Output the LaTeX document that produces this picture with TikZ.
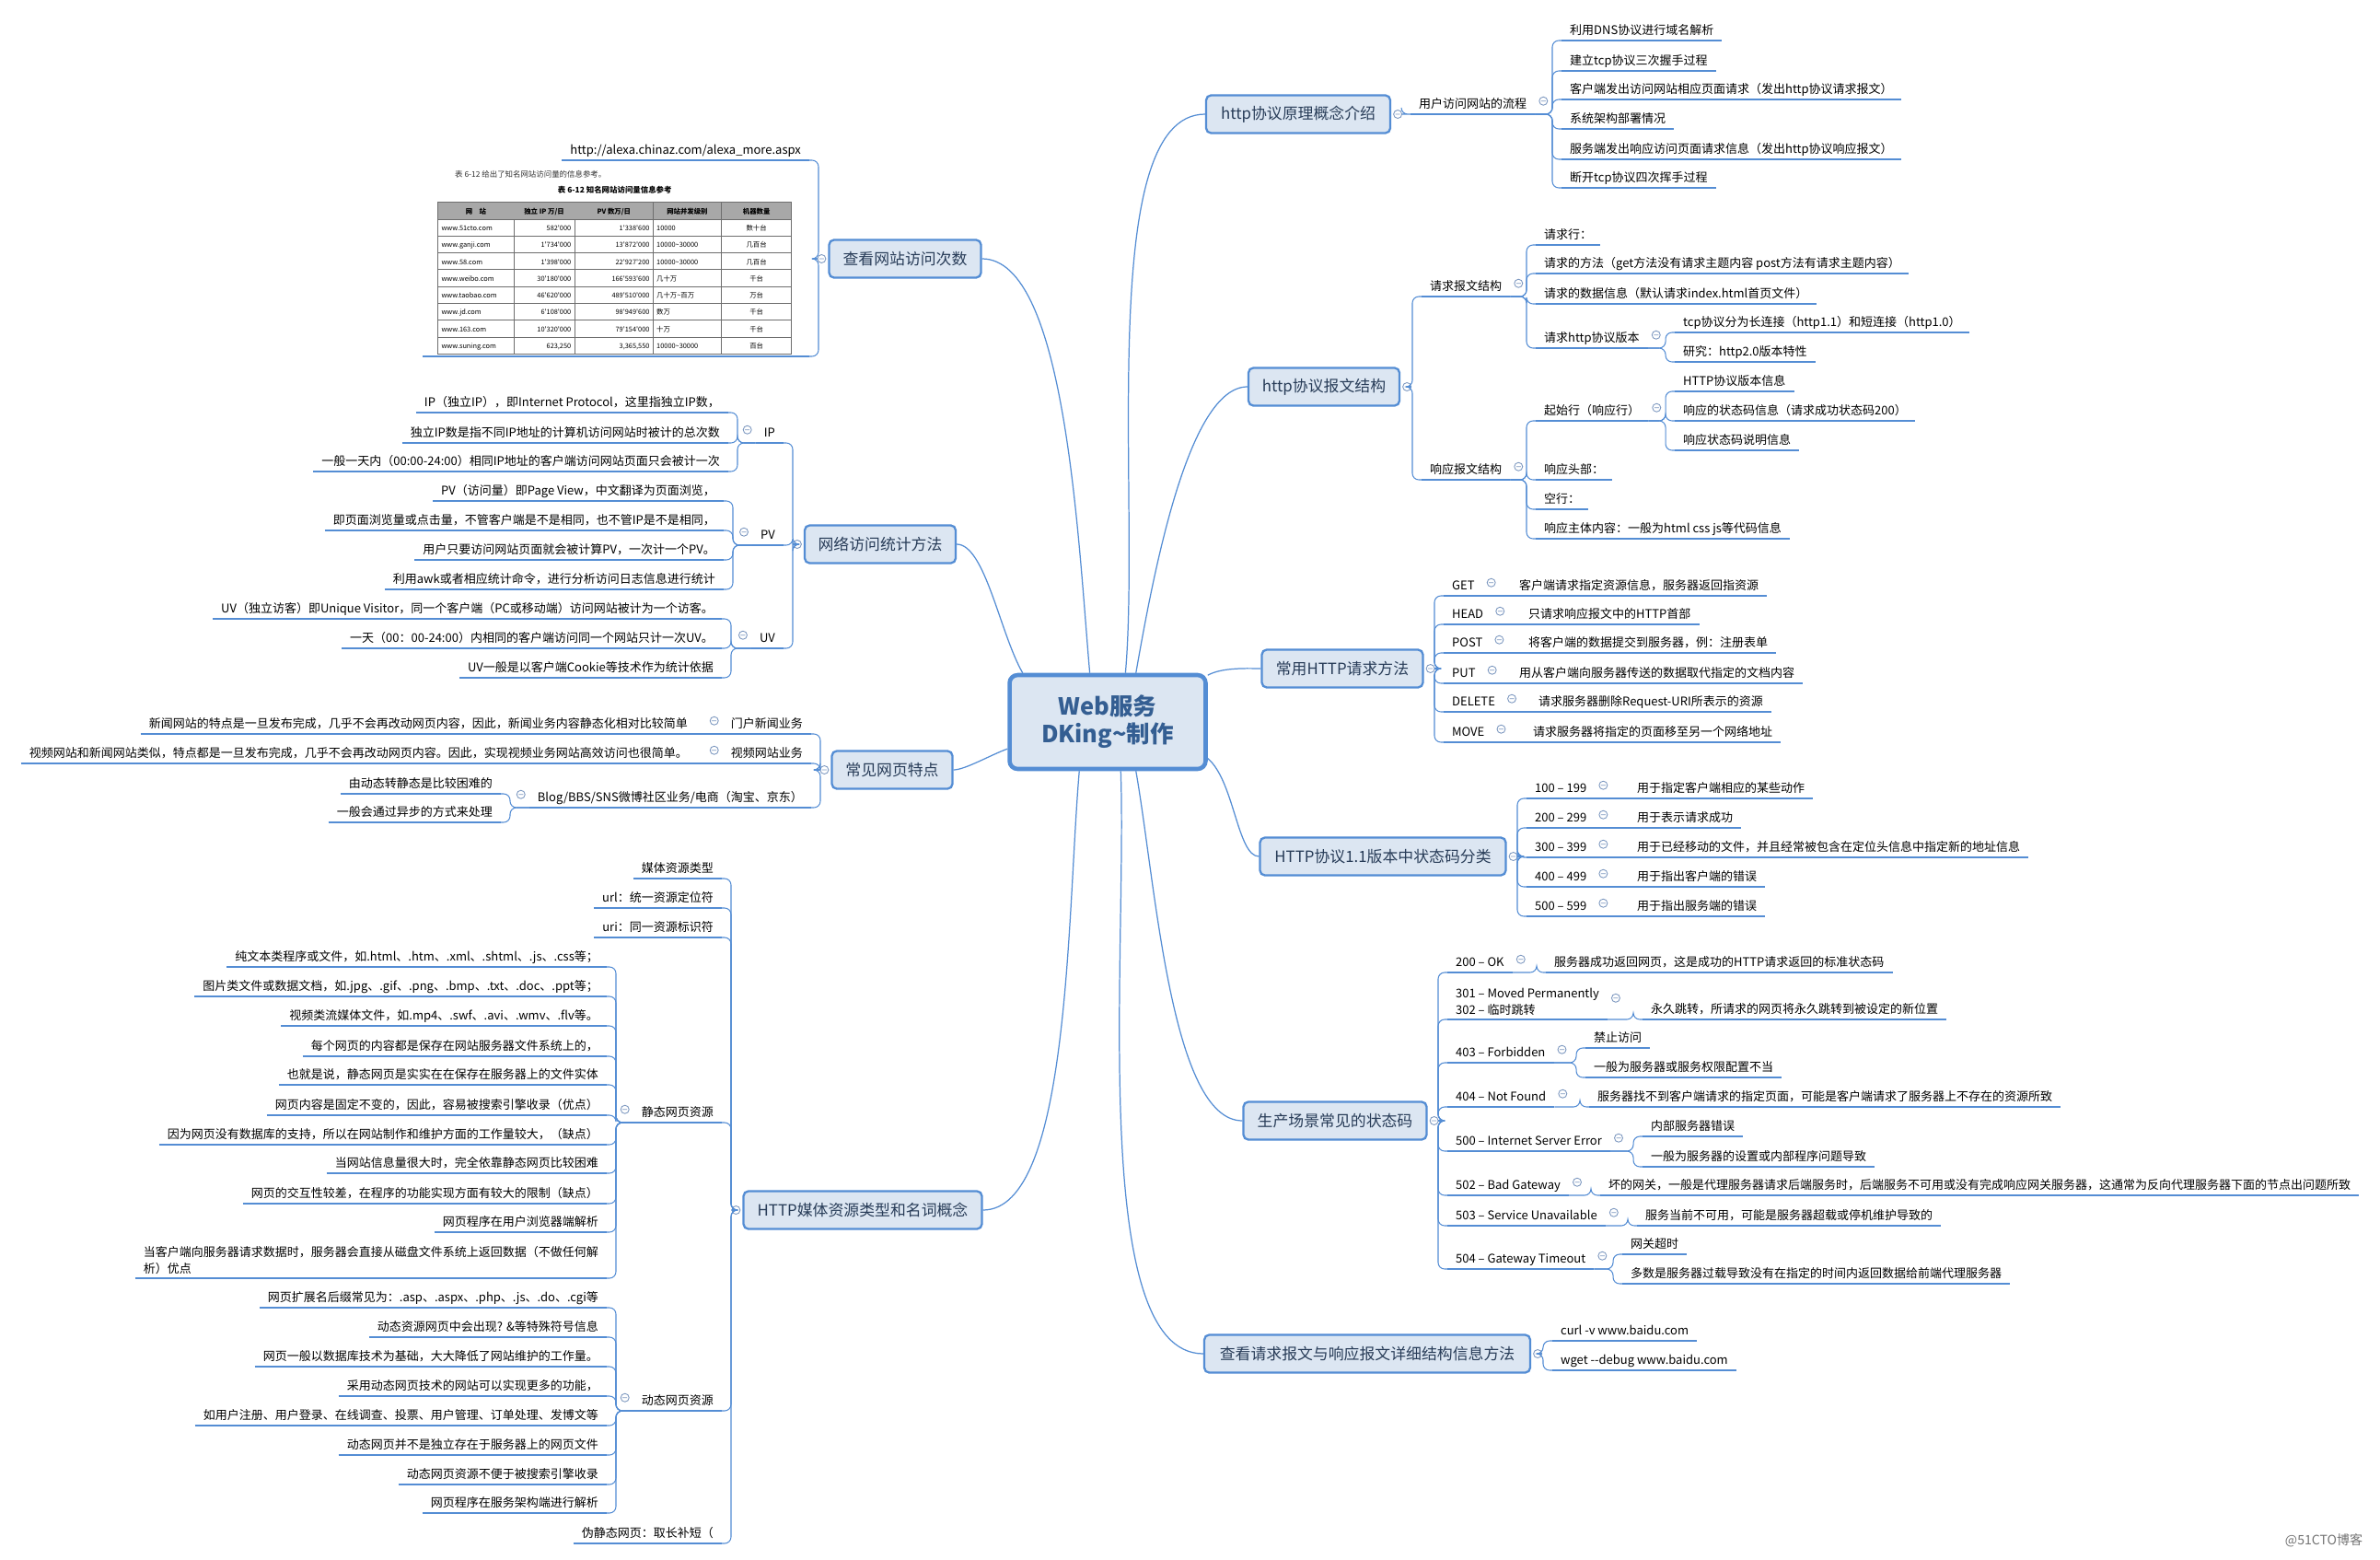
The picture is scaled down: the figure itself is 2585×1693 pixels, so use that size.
\PassOptionsToPackage{table}{xcolor}
\documentclass[tikz,border=0pt]{standalone}
\usepackage{fontspec}
\setmainfont{Noto Sans CJK SC}
\usepackage{array}
\usetikzlibrary{positioning}
\definecolor{lineblue}{RGB}{84,141,212}
\definecolor{topicfill}{RGB}{220,230,242}
\definecolor{topictext}{RGB}{40,60,88}
\definecolor{roottext}{RGB}{52,94,146}
\definecolor{foldgray}{RGB}{125,152,192}
\definecolor{tblhead}{RGB}{168,168,168}
\definecolor{tblrule}{RGB}{110,110,110}
\newcommand{\leaffont}{\fontsize{7.4pt}{10.2pt}\selectfont}
\newcommand{\topicfont}{\fontsize{9.6pt}{12pt}\selectfont}
\newcommand{\rootfont}{\fontsize{14.5pt}{17pt}\selectfont\bfseries}
\newcommand{\tblfont}{\fontsize{4.2pt}{5pt}\selectfont}
\newcommand{\capfont}{\fontsize{4.8pt}{5.5pt}\selectfont}
\newcommand{\q}{\textquotesingle}

\begin{document}
\begin{tikzpicture}[
  x=0.02cm, y=-0.02cm,
  link/.style={draw=lineblue, line width=0.6pt, rounded corners=4pt},
  trunk/.style={draw=lineblue, line width=0.7pt, out looseness=0.8, in looseness=0.5},
  uline/.style={draw=lineblue, line width=1.5pt},
  foldline/.style={draw=foldgray, line width=0.5pt, fill=white},
  ul/.style={append after command={(\tikzlastnode.south west) edge[uline] (\tikzlastnode.south east)}},
  leaf/.style={ul, font=\leaffont, inner xsep=5pt, inner ysep=1.6pt, text height=6.3pt, text depth=1.8pt},
  leafR/.style={leaf, anchor=south west},
  leafL/.style={leaf, anchor=south east},
  foldR/.style={append after command={\pgfextra{\draw[foldline] ([xshift=0.18cm,yshift=0.08cm]\tikzlastnode.east) circle (0.09cm) +(-0.05cm,0) -- +(0.05cm,0);}}},
  foldL/.style={append after command={\pgfextra{\draw[foldline] ([xshift=-0.18cm,yshift=0.08cm]\tikzlastnode.west) circle (0.09cm) +(-0.05cm,0) -- +(0.05cm,0);}}},
  foldBR/.style={append after command={\pgfextra{\draw[foldline] ([xshift=0.14cm]\tikzlastnode.east) circle (0.09cm) +(-0.05cm,0) -- +(0.05cm,0);}}},
  foldBL/.style={append after command={\pgfextra{\draw[foldline] ([xshift=-0.14cm]\tikzlastnode.west) circle (0.09cm) +(-0.05cm,0) -- +(0.05cm,0);}}},
  topic/.style={draw=lineblue, line width=1.3pt, fill=topicfill, rounded corners=3pt,
    font=\topicfont, text=topictext, minimum height=0.82cm, inner xsep=0.2cm},
  rootbox/.style={draw=lineblue, line width=2.6pt, fill=topicfill, rounded corners=5pt,
    font=\rootfont, text=roottext, align=center, minimum width=4.26cm, minimum height=2.04cm}
]
\fill[white] (0,0) rectangle (2585,1693);
\useasboundingbox (0,0) rectangle (2585,1693);

\node[rootbox] (root) at (1203,784) {Web服务\\DKing\textasciitilde 制作};

% right side
\node[topic, foldBR, minimum width=4.0cm] (intro) at (1410,124) {http协议原理概念介绍};
\node[leafR, foldR] (flow) at (1532,124) {用户访问网站的流程};
\node[leafR] (fl1) at (1696,44) {利用DNS协议进行域名解析};
\node[leafR] (fl2) at (1696,77) {建立tcp协议三次握手过程};
\node[leafR] (fl3) at (1696,108) {客户端发出访问网站相应页面请求（发出http协议请求报文）};
\node[leafR] (fl4) at (1696,140) {系统架构部署情况};
\node[leafR] (fl5) at (1696,173) {服务端发出响应访问页面请求信息（发出http协议响应报文）};
\node[leafR] (fl6) at (1696,204) {断开tcp协议四次挥手过程};

\node[topic, foldBR, minimum width=3.28cm] (msg) at (1438,420) {http协议报文结构};
\node[leafR, foldR] (req) at (1544,322) {请求报文结构};
\node[leafR, foldR] (resp) at (1544,521) {响应报文结构};
\node[leafR] (rq1) at (1668,266) {请求行：};
\node[leafR] (rq2) at (1668,297) {请求的方法（get方法没有请求主题内容 post方法有请求主题内容）};
\node[leafR] (rq3) at (1668,330) {请求的数据信息（默认请求index.html首页文件）};
\node[leafR, foldR] (rq4) at (1668,378) {请求http协议版本};
\node[leafR] (ver1) at (1819,361) {tcp协议分为长连接（http1.1）和短连接（http1.0）};
\node[leafR] (ver2) at (1819,393) {研究：http2.0版本特性};
\node[leafR, foldR] (rs1) at (1668,457) {起始行（响应行）};
\node[leafR] (sl1) at (1819,425) {HTTP协议版本信息};
\node[leafR] (sl2) at (1819,457) {响应的状态码信息（请求成功状态码200）};
\node[leafR] (sl3) at (1819,489) {响应状态码说明信息};
\node[leafR] (rs2) at (1668,521) {响应头部：};
\node[leafR] (rs3) at (1668,553) {空行：};
\node[leafR] (rs4) at (1668,585) {响应主体内容：一般为html css js等代码信息};

\node[topic, foldBR, minimum width=3.5cm] (meth) at (1458,726) {常用HTTP请求方法};
\node[leafR, foldR] (get) at (1568,647) {GET};
\node[leafR, foldR] (head) at (1568,678) {HEAD};
\node[leafR, foldR] (post) at (1568,709) {POST};
\node[leafR, foldR] (put) at (1568,742) {PUT};
\node[leafR, foldR] (del) at (1568,773) {DELETE};
\node[leafR, foldR] (move) at (1568,806) {MOVE};
\node[leafR] (getd) at (1641,647) {客户端请求指定资源信息，服务器返回指资源};
\node[leafR] (headd) at (1651,678) {只请求响应报文中的HTTP首部};
\node[leafR] (postd) at (1651,709) {将客户端的数据提交到服务器，例：注册表单};
\node[leafR] (putd) at (1641,742) {用从客户端向服务器传送的数据取代指定的文档内容};
\node[leafR] (deld) at (1662,773) {请求服务器删除Request-URI所表示的资源};
\node[leafR] (moved) at (1656,806) {请求服务器将指定的页面移至另一个网络地址};

\node[topic, foldBR, minimum width=5.34cm] (code) at (1502,930) {HTTP协议1.1版本中状态码分类};
\node[leafR, foldR] (c1) at (1658,867) {100 – 199};
\node[leafR, foldR] (c2) at (1658,899) {200 – 299};
\node[leafR, foldR] (c3) at (1658,931) {300 – 399};
\node[leafR, foldR] (c4) at (1658,963) {400 – 499};
\node[leafR, foldR] (c5) at (1658,995) {500 – 599};
\node[leafR] (c1d) at (1769,867) {用于指定客户端相应的某些动作};
\node[leafR] (c2d) at (1769,899) {用于表示请求成功};
\node[leafR] (c3d) at (1769,931) {用于已经移动的文件，并且经常被包含在定位头信息中指定新的地址信息};
\node[leafR] (c4d) at (1769,963) {用于指出客户端的错误};
\node[leafR] (c5d) at (1769,995) {用于指出服务端的错误};

\node[topic, foldBR, minimum width=3.98cm] (prod) at (1450,1217) {生产场景常见的状态码};
\node[leafR, foldR] (p200) at (1572,1056) {200 – OK};
\node[leafR] (p200d) at (1679,1056) {服务器成功返回网页，这是成功的HTTP请求返回的标准状态码};
\node[leafR, foldR, align=left, text height=, text depth=, inner ysep=2.4pt] (p301) at (1572,1107) {301 – Moved Permanently\\302 – 临时跳转};
\node[leafR] (p301d) at (1784,1107) {永久跳转，所请求的网页将永久跳转到被设定的新位置};
\node[leafR, foldR] (p403) at (1572,1154) {403 – Forbidden};
\node[leafR] (p403a) at (1722,1138) {禁止访问};
\node[leafR] (p403b) at (1722,1170) {一般为服务器或服务权限配置不当};
\node[leafR, foldR] (p404) at (1572,1202) {404 – Not Found};
\node[leafR] (p404d) at (1726,1202) {服务器找不到客户端请求的指定页面，可能是客户端请求了服务器上不存在的资源所致};
\node[leafR, foldR] (p500) at (1572,1250) {500 – Internet Server Error};
\node[leafR] (p500a) at (1784,1234) {内部服务器错误};
\node[leafR] (p500b) at (1784,1267) {一般为服务器的设置或内部程序问题导致};
\node[leafR, foldR] (p502) at (1572,1298) {502 – Bad Gateway};
\node[leafR] (p502d) at (1738,1298) {坏的网关，一般是代理服务器请求后端服务时，后端服务不可用或没有完成响应网关服务器，这通常为反向代理服务器下面的节点出问题所致};
\node[leafR, foldR] (p503) at (1572,1331) {503 – Service Unavailable};
\node[leafR] (p503d) at (1778,1331) {服务当前不可用，可能是服务器超载或停机维护导致的};
\node[leafR, foldR] (p504) at (1572,1378) {504 – Gateway Timeout};
\node[leafR] (p504a) at (1762,1362) {网关超时};
\node[leafR] (p504b) at (1762,1394) {多数是服务器过载导致没有在指定的时间内返回数据给前端代理服务器};

\node[topic, foldBR, minimum width=7.08cm] (view) at (1485,1470) {查看请求报文与响应报文详细结构信息方法};
\node[leafR] (curl) at (1686,1456) {curl -v www.baidu.com};
\node[leafR] (wget) at (1686,1488) {wget -\kern0pt-debug www.baidu.com};

% left side
\node[topic, foldBL, minimum width=3.3cm] (visit) at (983,281) {查看网站访问次数};
\node[leafL] (alexa) at (879,174) {http://alexa.chinaz.com/alexa\_more.aspx};
\node[ul, anchor=south east, minimum width=8.38cm, minimum height=4.04cm, inner sep=0pt] (shot) at (879,387) {};
\node[font=\capfont, anchor=west, text=black!80] (cap) at (488,189) {表 6-12 给出了知名网站访问量的信息参考。};
\node[font=\capfont, anchor=north west, inner sep=0pt] (tbl) at (475,219) {%
  \arrayrulecolor{tblrule}\setlength{\tabcolsep}{2pt}\renewcommand{\arraystretch}{2}\tblfont
  \begin{tabular}{|>{\raggedright\arraybackslash}p{1.49cm}|>{\raggedleft\arraybackslash}p{1.17cm}|>{\raggedleft\arraybackslash}p{1.55cm}|>{\raggedright\arraybackslash}p{1.33cm}|>{\centering\arraybackslash}p{1.37cm}|}
  \hline
  \rowcolor{tblhead}\multicolumn{1}{|c|}{\bfseries 网　站} & \multicolumn{1}{c|}{\bfseries 独立 IP 万/日} & \multicolumn{1}{c|}{\bfseries PV 数万/日} & \multicolumn{1}{c|}{\bfseries 网站并发级别} & \multicolumn{1}{c|}{\bfseries 机器数量}\\ \hline
  www.51cto.com & 582\q000 & 1\q338\q600 & 10000 & 数十台\\ \hline
  www.ganji.com & 1\q734\q000 & 13\q872\q000 & 10000\textasciitilde 30000 & 几百台\\ \hline
  www.58.com & 1\q398\q000 & 22\q927\q200 & 10000\textasciitilde 30000 & 几百台\\ \hline
  www.weibo.com & 30\q180\q000 & 166\q593\q600 & 几十万 & 千台\\ \hline
  www.taobao.com & 46\q620\q000 & 489\q510\q000 & 几十万\textasciitilde 百万 & 万台\\ \hline
  www.jd.com & 6\q108\q000 & 98\q949\q600 & 数万 & 千台\\ \hline
  www.163.com & 10\q320\q000 & 79\q154\q000 & 十万 & 千台\\ \hline
  www.suning.com & 623,250 & 3,365,550 & 10000\textasciitilde 30000 & 百台\\ \hline
  \end{tabular}};
\node[font=\capfont\bfseries, above=0.05cm of tbl] (ttl) {表 6-12 知名网站访问量信息参考};

\node[topic, foldBL, minimum width=3.28cm] (stat) at (956,591) {网络访问统计方法};
\node[leafL, foldL] (ip) at (851,481) {IP};
\node[leafL, foldL] (pv) at (851,592) {PV};
\node[leafL, foldL] (uv) at (851,704) {UV};
\node[leafL] (ip1) at (791,448) {IP（独立IP），即Internet Protocol，这里指独立IP数，};
\node[leafL] (ip2) at (791,481) {独立IP数是指不同IP地址的计算机访问网站时被计的总次数};
\node[leafL] (ip3) at (791,512) {一般一天内（00:00-24:00）相同IP地址的客户端访问网站页面只会被计一次};
\node[leafL] (pv1) at (786,544) {PV（访问量）即Page View，中文翻译为页面浏览，};
\node[leafL] (pv2) at (786,576) {即页面浏览量或点击量，不管客户端是不是相同，也不管IP是不是相同，};
\node[leafL] (pv3) at (786,608) {用户只要访问网站页面就会被计算PV，一次计一个PV。};
\node[leafL] (pv4) at (786,640) {利用awk或者相应统计命令，进行分析访问日志信息进行统计};
\node[leafL] (uv1) at (784,672) {UV（独立访客）即Unique Visitor，同一个客户端（PC或移动端）访问网站被计为一个访客。};
\node[leafL] (uv2) at (784,704) {一天（00：00-24:00）内相同的客户端访问同一个网站只计一次UV。};
\node[leafL] (uv3) at (784,736) {UV一般是以客户端Cookie等技术作为统计依据};

\node[topic, foldBL, minimum width=2.62cm] (feat) at (969,836) {常见网页特点};
\node[leafL, foldL] (news) at (881,797) {门户新闻业务};
\node[leafL, foldL] (video) at (881,829) {视频网站业务};
\node[leafL, foldL] (blog) at (881,877) {Blog/BBS/SNS微博社区业务/电商（淘宝、京东）};
\node[leafL] (newsd) at (756,797) {新闻网站的特点是一旦发布完成，几乎不会再改动网页内容，因此，新闻业务内容静态化相对比较简单};
\node[leafL] (videod) at (756,829) {视频网站和新闻网站类似，特点都是一旦发布完成，几乎不会再改动网页内容。因此，实现视频业务网站高效访问也很简单。};
\node[leafL] (blog1) at (544,862) {由动态转静态是比较困难的};
\node[leafL] (blog2) at (544,893) {一般会通过异步的方式来处理};

\node[topic, foldBL, minimum width=5.18cm] (media) at (937,1314) {HTTP媒体资源类型和名词概念};
\node[leafL] (mtype) at (784,954) {媒体资源类型};
\node[leafL] (url) at (784,986) {url：统一资源定位符};
\node[leafL] (uri) at (784,1018) {uri：同一资源标识符};
\node[leafL, foldL] (static) at (784,1219) {静态网页资源};
\node[leafL, foldL] (dynamic) at (784,1532) {动态网页资源};
\node[leafL] (pseudo) at (784,1676) {伪静态网页：取长补短（};
\node[leafL] (sr1) at (659,1050) {纯文本类程序或文件，如.html、.htm、.xml、.shtml、.js、.css等；};
\node[leafL] (sr2) at (659,1082) {图片类文件或数据文档，如.jpg、.gif、.png、.bmp、.txt、.doc、.ppt等；};
\node[leafL] (sr3) at (659,1114) {视频类流媒体文件，如.mp4、.swf、.avi、.wmv、.flv等。};
\node[leafL] (sr4) at (659,1147) {每个网页的内容都是保存在网站服务器文件系统上的，};
\node[leafL] (sr5) at (659,1178) {也就是说，静态网页是实实在在保存在服务器上的文件实体};
\node[leafL] (sr6) at (659,1211) {网页内容是固定不变的，因此，容易被搜索引擎收录（优点）};
\node[leafL] (sr7) at (659,1243) {因为网页没有数据库的支持，所以在网站制作和维护方面的工作量较大，（缺点）};
\node[leafL] (sr8) at (659,1274) {当网站信息量很大时，完全依靠静态网页比较困难};
\node[leafL] (sr9) at (659,1307) {网页的交互性较差，在程序的功能实现方面有较大的限制（缺点）};
\node[leafL] (sr10) at (659,1338) {网页程序在用户浏览器端解析};
\node[leafL, align=left, text height=, text depth=, inner ysep=2.4pt] (sr11) at (659,1388) {当客户端向服务器请求数据时，服务器会直接从磁盘文件系统上返回数据（不做任何解\\析）优点};
\node[leafL] (dr1) at (659,1420) {网页扩展名后缀常见为：.asp、.aspx、.php、.js、.do、.cgi等};
\node[leafL] (dr2) at (659,1452) {动态资源网页中会出现? \&等特殊符号信息};
\node[leafL] (dr3) at (659,1484) {网页一般以数据库技术为基础，大大降低了网站维护的工作量。};
\node[leafL] (dr4) at (659,1516) {采用动态网页技术的网站可以实现更多的功能，};
\node[leafL] (dr5) at (659,1548) {如用户注册、用户登录、在线调查、投票、用户管理、订单处理、发博文等};
\node[leafL] (dr6) at (659,1580) {动态网页并不是独立存在于服务器上的网页文件};
\node[leafL] (dr7) at (659,1612) {动态网页资源不便于被搜索引擎收录};
\node[leafL] (dr8) at (659,1643) {网页程序在服务架构端进行解析};

\node[font=\fontsize{8pt}{9pt}\selectfont, text=black!55] (mark) at (2524,1673) {@51CTO博客};

% trunk curves
\draw[trunk] (root.70) to[out=85,in=180] (intro.west);
\draw[trunk] (root.60) to[out=80,in=180] (msg.west);
\draw[trunk] (root.25) to[out=30,in=180] (meth.west);
\draw[trunk] (root.-20) to[out=-40,in=180] (code.west);
\draw[trunk] (root.-60) to[out=-80,in=180] (prod.west);
\draw[trunk] (root.-75) to[out=-88,in=180] (view.west);
\draw[trunk] (root.110) to[out=95,in=0] (visit.east);
\draw[trunk] (root.150) to[out=120,in=0] (stat.east);
\draw[trunk] (root.195) to[out=200,in=0] (feat.east);
\draw[trunk] (root.240) to[out=-95,in=0] (media.east);

% branches, right
\draw[link] ([xshift=0.23cm]intro.east) -| ([xshift=-0.2cm]flow.south west) -- (flow.south west);
\foreach \n in {fl1,fl2,fl3,fl4,fl5,fl6}
  \draw[link] (flow.south east) -| ([xshift=-0.2cm]\n.south west) -- (\n.south west);
\foreach \n in {req,resp}
  \draw[link] ([xshift=0.23cm]msg.east) -| ([xshift=-0.2cm]\n.south west) -- (\n.south west);
\foreach \n in {rq1,rq2,rq3,rq4}
  \draw[link] (req.south east) -| ([xshift=-0.2cm]\n.south west) -- (\n.south west);
\foreach \n in {ver1,ver2}
  \draw[link] (rq4.south east) -| ([xshift=-0.2cm]\n.south west) -- (\n.south west);
\foreach \n in {rs1,rs2,rs3,rs4}
  \draw[link] (resp.south east) -| ([xshift=-0.2cm]\n.south west) -- (\n.south west);
\foreach \n in {sl1,sl2,sl3}
  \draw[link] (rs1.south east) -| ([xshift=-0.2cm]\n.south west) -- (\n.south west);
\foreach \n in {get,head,post,put,del,move} {
  \draw[link] ([xshift=0.23cm]meth.east) -| ([xshift=-0.2cm]\n.south west) -- (\n.south west);
  \draw[link] (\n.south east) -- (\n d.south west);
}
\foreach \n in {c1,c2,c3,c4,c5} {
  \draw[link] ([xshift=0.23cm]code.east) -| ([xshift=-0.2cm]\n.south west) -- (\n.south west);
  \draw[link] (\n.south east) -- (\n d.south west);
}
\foreach \n in {p200,p301,p403,p404,p500,p502,p503,p504}
  \draw[link] ([xshift=0.23cm]prod.east) -| ([xshift=-0.2cm]\n.south west) -- (\n.south west);
\foreach \p/\n in {p200/p200d,p301/p301d,p403/p403a,p403/p403b,p404/p404d,p500/p500a,p500/p500b,p502/p502d,p503/p503d,p504/p504a,p504/p504b}
  \draw[link] (\p.south east) -| ([xshift=-0.2cm]\n.south west) -- (\n.south west);
\foreach \n in {curl,wget}
  \draw[link] ([xshift=0.23cm]view.east) -| ([xshift=-0.2cm]\n.south west) -- (\n.south west);

% branches, left
\foreach \n in {alexa,shot}
  \draw[link] ([xshift=-0.23cm]visit.west) -| ([xshift=0.2cm]\n.south east) -- (\n.south east);
\foreach \n in {ip,pv,uv}
  \draw[link] ([xshift=-0.23cm]stat.west) -| ([xshift=0.2cm]\n.south east) -- (\n.south east);
\foreach \n in {ip1,ip2,ip3}
  \draw[link] (ip.south west) -| ([xshift=0.2cm]\n.south east) -- (\n.south east);
\foreach \n in {pv1,pv2,pv3,pv4}
  \draw[link] (pv.south west) -| ([xshift=0.2cm]\n.south east) -- (\n.south east);
\foreach \n in {uv1,uv2,uv3}
  \draw[link] (uv.south west) -| ([xshift=0.2cm]\n.south east) -- (\n.south east);
\foreach \n in {news,video,blog}
  \draw[link] ([xshift=-0.23cm]feat.west) -| ([xshift=0.2cm]\n.south east) -- (\n.south east);
\draw[link] (news.south west) -- (newsd.south east);
\draw[link] (video.south west) -- (videod.south east);
\foreach \n in {blog1,blog2}
  \draw[link] (blog.south west) -| ([xshift=0.2cm]\n.south east) -- (\n.south east);
\foreach \n in {mtype,url,uri,static,dynamic,pseudo}
  \draw[link] ([xshift=-0.23cm]media.west) -| ([xshift=0.2cm]\n.south east) -- (\n.south east);
\foreach \n in {sr1,sr2,sr3,sr4,sr5,sr6,sr7,sr8,sr9,sr10,sr11}
  \draw[link] (static.south west) -| ([xshift=0.2cm]\n.south east) -- (\n.south east);
\foreach \n in {dr1,dr2,dr3,dr4,dr5,dr6,dr7,dr8}
  \draw[link] (dynamic.south west) -| ([xshift=0.2cm]\n.south east) -- (\n.south east);
\end{tikzpicture}
\end{document}
